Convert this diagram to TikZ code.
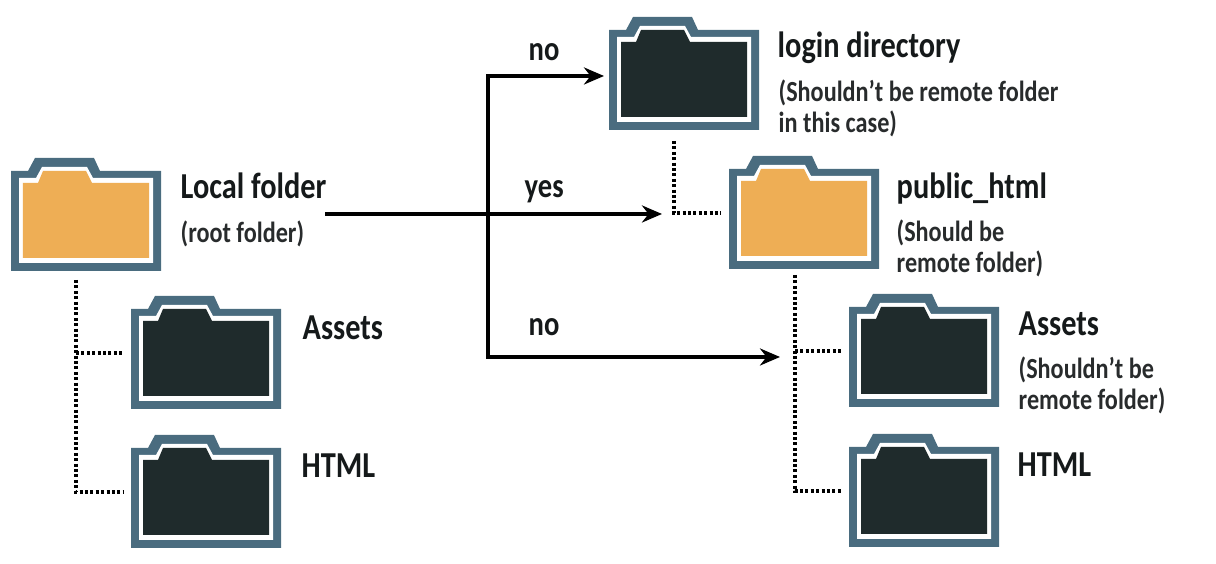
\documentclass[tikz,border=0pt]{standalone}
\usepackage{fontspec}
\setmainfont[FakeStretch=0.83]{Carlito}
\usetikzlibrary{positioning,calc,arrows.meta}
\definecolor{frameblue}{HTML}{4A6C7F}
\definecolor{folderorange}{HTML}{EEAE55}
\definecolor{folderdark}{HTML}{1F2B2C}
\definecolor{inkblack}{HTML}{15191A}
\tikzset{
  titlelabel/.style={anchor=base west, inner sep=0pt, text=inkblack, font=\fontsize{10.4}{12}\selectfont\bfseries},
  notelabel/.style={anchor=base west, inner sep=0pt, align=left, text=inkblack!92!white, font=\fontsize{8.3}{8.55}\selectfont\bfseries},
  flowlabel/.style={anchor=base west, inner sep=0pt, text=inkblack, font=\fontsize{9.8}{12}\selectfont\bfseries},
  flowline/.style={line width=0.038cm, draw=black, -{Stealth[length=0.2cm, width=0.17cm]}},
  dotline/.style={line width=0.04cm, draw=black, dash pattern=on 0.03cm off 0.024cm},
  folderbox/.style={minimum width=1.5cm, minimum height=1.11cm, inner sep=0pt, outer sep=0pt},
  pics/folder/.style={code={
    \node[folderbox, anchor=south west] (-box) at (0,0) {};
    \fill[frameblue] (0,0) -- (1.5,0) -- (1.5,1.0) -- (0.89,1.0) -- (0.83,1.13)
      -- (0.24,1.13) -- (0.17,1.0) -- (0,1.0) -- cycle;
    \fill[white] (0.08,0.08) -- (1.42,0.08) -- (1.42,0.93) -- (0.82,0.93) -- (0.76,1.04)
      -- (0.31,1.04) -- (0.25,0.93) -- (0.08,0.93) -- cycle;
    \fill[#1] (0.12,0.13) -- (1.38,0.13) -- (1.38,0.88) -- (0.81,0.88) -- (0.75,1.0)
      -- (0.32,1.0) -- (0.27,0.88) -- (0.12,0.88) -- cycle;
  }}
}

\begin{document}
\begin{tikzpicture}
  \useasboundingbox (0,0) rectangle (12.16,5.64);

  % Left tree
  \pic (local) at (0.11,2.93) {folder=folderorange};
  \pic (assetsL) at (1.31,1.55) {folder=folderdark};
  \pic (htmlL) at (1.31,0.16) {folder=folderdark};
  \node[titlelabel] (localtitle) at (1.80,3.65) {Local folder};
  \node[notelabel] (localnote) at (1.80,3.21) {(root folder)};
  \node[titlelabel] (assetsLtitle) at (3.02,2.24) {Assets};
  \node[titlelabel] (htmlLtitle) at (3.01,0.86) {HTML};

  % Right tree
  \pic (login) at (6.09,4.34) {folder=folderdark};
  \pic (public) at (7.29,2.95) {folder=folderorange};
  \pic (assetsR) at (8.49,1.57) {folder=folderdark};
  \pic (htmlR) at (8.49,0.17) {folder=folderdark};
  \node[titlelabel] (logintitle) at (7.77,5.06) {login directory};
  \node[notelabel] (loginnote) at (7.78,4.31) {(Shouldn’t be remote folder\\[0.01cm]in this case)};
  \node[titlelabel] (publictitle) at (8.96,3.65) {public\_html};
  \node[notelabel] (publicnote) at (8.96,2.91) {(Should be\\[0.01cm]remote folder)};
  \node[titlelabel] (assetsRtitle) at (10.18,2.28) {Assets};
  \node[notelabel] (assetsRnote) at (10.18,1.54) {(Shouldn’t be\\[0.01cm]remote folder)};
  \node[titlelabel] (htmlRtitle) at (10.17,0.87) {HTML};

  % Dotted links
  \coordinate (ltrunk) at (0.76,2.84);
  \coordinate (ctrunk) at (6.74,4.23);
  \coordinate (rtrunk) at (7.95,2.89);
  \draw[dotline, shorten >=0.08cm] (ltrunk) -- (ltrunk |- htmlL-box.west) -- (htmlL-box.west);
  \draw[dotline, shorten >=0.08cm] (ltrunk |- assetsL-box.west) -- (assetsL-box.west);
  \draw[dotline, shorten >=0.08cm] (ctrunk) -- (ctrunk |- public-box.west) -- (public-box.west);
  \draw[dotline, shorten >=0.08cm] (rtrunk) -- (rtrunk |- htmlR-box.west) -- (htmlR-box.west);
  \draw[dotline, shorten >=0.08cm] (rtrunk |- assetsR-box.west) -- (assetsR-box.west);

  % Arrows
  \coordinate (start) at (3.25,3.5);
  \coordinate (fork) at (4.88,3.5);
  \coordinate (publicend) at (6.62,3.5);
  \coordinate (loginend) at (6.04,4.88);
  \coordinate (assetsend) at (7.8,2.07);
  \draw[flowline] (start) -- (publicend);
  \draw[flowline] (fork) -- (fork |- loginend) -- (loginend);
  \draw[flowline] (fork) -- (fork |- assetsend) -- (assetsend);
  \node[flowlabel] (nolabeltop) at (5.28,5.03) {no};
  \node[flowlabel] (yeslabel) at (5.24,3.66) {yes};
  \node[flowlabel] (nolabelbottom) at (5.28,2.28) {no};
\end{tikzpicture}
\end{document}
